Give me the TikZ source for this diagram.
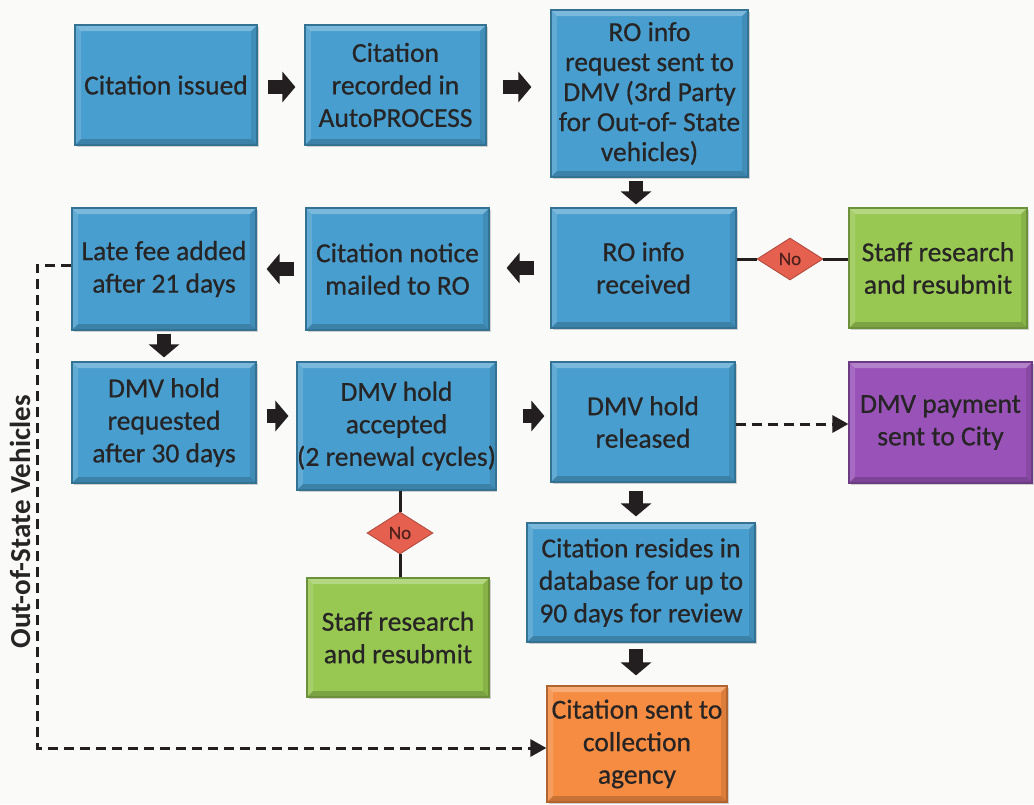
\documentclass[tikz,border=0pt]{standalone}
\usepackage{fontspec}
\setmainfont{Carlito}
\usetikzlibrary{arrows.meta,shapes.geometric,shadows,calc}
\definecolor{bgc}{RGB}{250,250,248}
\definecolor{txt}{RGB}{38,36,36}
\definecolor{arr}{RGB}{35,30,32}
\definecolor{cblue}{RGB}{72,158,206}
\definecolor{cgreen}{RGB}{152,200,82}
\definecolor{cpurple}{RGB}{152,82,184}
\definecolor{corange}{RGB}{245,140,66}
\definecolor{cred}{RGB}{230,96,80}
\newcommand{\bevelpic}{%
  \coordinate (bNW) at (path picture bounding box.north west);
  \coordinate (bNE) at (path picture bounding box.north east);
  \coordinate (bSW) at (path picture bounding box.south west);
  \coordinate (bSE) at (path picture bounding box.south east);
  \fill[white,opacity=0.28] (bNW) -- (bNE) -- ($(bNE)+(-6pt,-6pt)$) -- ($(bNW)+(6pt,-6pt)$) -- cycle;
  \fill[white,opacity=0.14] (bNW) -- (bSW) -- ($(bSW)+(6pt,6pt)$) -- ($(bNW)+(6pt,-6pt)$) -- cycle;
  \fill[black,opacity=0.18] (bSW) -- (bSE) -- ($(bSE)+(-6pt,6pt)$) -- ($(bSW)+(6pt,6pt)$) -- cycle;
  \fill[black,opacity=0.10] (bNE) -- (bSE) -- ($(bSE)+(-6pt,6pt)$) -- ($(bNE)+(-6pt,-6pt)$) -- cycle;
}
\tikzset{
  box/.style={rectangle, fill=#1, draw=#1!72!black, line width=1.2pt,
    text=txt, align=center, inner sep=0pt,
    font=\addfontfeatures{FakeBold=0.6}\fontsize{27.5}{32.5}\selectfont,
    path picture={\bevelpic},
    drop shadow={shadow xshift=1.5pt, shadow yshift=-2pt, opacity=0.35}},
  dmd/.style={diamond, fill=cred, draw=cred!75!black, line width=0.8pt,
    minimum width=66pt, minimum height=42pt, inner sep=0pt,
    text={cred!35!black}, font=\addfontfeatures{FakeBold=0.6}\fontsize{19}{19}\selectfont},
  blk/.style={line width=14pt, draw=arr, -{Triangle[length=13pt,width=30pt]}},
  dline/.style={line width=3pt, draw=arr, dash pattern=on 10pt off 6pt,
    -{Triangle[length=16pt,width=17pt]}},
  sline/.style={line width=3pt, draw=arr},
}
\begin{document}
\begin{tikzpicture}[x=1pt,y=-1pt]
\fill[bgc] (0,0) rectangle (1034,804);
\useasboundingbox (0,0) rectangle (1034,804);

\node[box=cblue, minimum width=182pt, minimum height=120pt] (b1) at (166,85) {Citation issued};
\node[box=cblue, minimum width=181pt, minimum height=120pt] (b2) at (395.5,85) {Citation\\recorded in\\AutoPROCESS};
\node[box=cblue, minimum width=197pt, minimum height=167pt, font=\addfontfeatures{FakeBold=0.6}\fontsize{27.5}{30}\selectfont] (b3) at (649.5,93.5) {RO info\\request sent to\\DMV (3rd Party\\for Out-of- State\\vehicles)};
\node[box=cblue, minimum width=185pt, minimum height=120pt] (b4) at (643.5,268) {RO info\\received};
\node[box=cgreen, minimum width=178pt, minimum height=120pt] (b5) at (938,268) {Staff research\\and resubmit};
\node[box=cblue, minimum width=183pt, minimum height=122pt] (b6) at (397.5,269) {Citation notice\\mailed to RO};
\node[box=cblue, minimum width=184pt, minimum height=122pt] (b7) at (164,269) {Late fee added\\after 21 days};
\node[box=cblue, minimum width=184pt, minimum height=121pt] (b8) at (164,422.5) {DMV hold\\requested\\after 30 days};
\node[box=cblue, minimum width=185pt, minimum height=128pt] (b9) at (396.5,426) {DMV hold\\accepted\\(2 renewal cycles)};
\node[box=cblue, minimum width=184pt, minimum height=120pt] (b10) at (643,422) {DMV hold\\released};
\node[box=cpurple, minimum width=183pt, minimum height=121pt] (b11) at (940.5,422.5) {DMV payment\\sent to City};
\node[box=cblue, minimum width=228pt, minimum height=119pt] (b12) at (641,582.5) {Citation resides in\\database for up to\\90 days for review};
\node[box=cgreen, minimum width=182pt, minimum height=119pt] (b13) at (398,637.5) {Staff research\\and resubmit};
\node[box=corange, minimum width=180pt, minimum height=116pt] (b14) at (637,744) {Citation sent to\\collection\\agency};

\node[dmd] (d1) at (790,259) {No};
\node[dmd] (d2) at (400,533) {No};

\node[rotate=90, text=txt, font=\bfseries\fontsize{29}{29}\selectfont] (lab) at (20,522) {Out-of-State Vehicles};

% block arrows
\draw[blk, shorten <=10pt, shorten >=9pt] ([yshift=-2pt]b1.east) -- ([yshift=-2pt]b1.east -| b2.west);
\draw[blk, shorten <=16pt, shorten >=19pt] ([yshift=-2pt]b2.east) -- ([yshift=-2pt]b2.east -| b3.west);
\draw[blk, shorten <=3pt, shorten >=3pt] ([xshift=-7.5pt]b4.north |- b3.south) -- ([xshift=-7.5pt]b4.north);
\draw[blk, shorten <=16pt, shorten >=17pt] (b4.west) -- (b4.west -| b6.east);
\draw[blk, shorten <=11pt, shorten >=10pt] (b6.west |- b7.east) -- (b7.east);
\draw[blk, shorten <=3pt, shorten >=4pt] (b7.south) -- (b8.north);
\draw[blk, shorten <=10pt, shorten >=8pt] ([yshift=6.5pt]b8.east) -- ([yshift=6.5pt]b8.east -| b9.west);
\draw[blk, shorten <=26pt, shorten >=6pt] ([yshift=10pt]b9.east) -- ([yshift=10pt]b9.east -| b10.west);
\draw[blk, shorten <=8pt, shorten >=6pt] ([xshift=-7pt]b10.south) -- ([xshift=-7pt]b10.south |- b12.north);
\draw[blk, shorten <=6pt, shorten >=10pt] ([xshift=-5pt]b12.south) -- ([xshift=-5pt]b12.south |- b14.north);

% decision lines
\draw[sline] (d1.west -| b4.east) -- (d1.west);
\draw[sline] (d1.east) -- (d1.east -| b5.west);
\draw[sline] (d2.north |- b9.south) -- (d2.north);
\draw[sline] (d2.south) -- (d2.south |- b13.north);

% dashed connectors
\draw[dline] ([yshift=-2pt]b10.east) -- ([yshift=-2pt]b10.east -| b11.west);
\coordinate (oc) at (37,265);
\draw[dline] ([yshift=4pt]b7.west) -- (oc) |- ([yshift=-4pt]b14.west);
\end{tikzpicture}
\end{document}
